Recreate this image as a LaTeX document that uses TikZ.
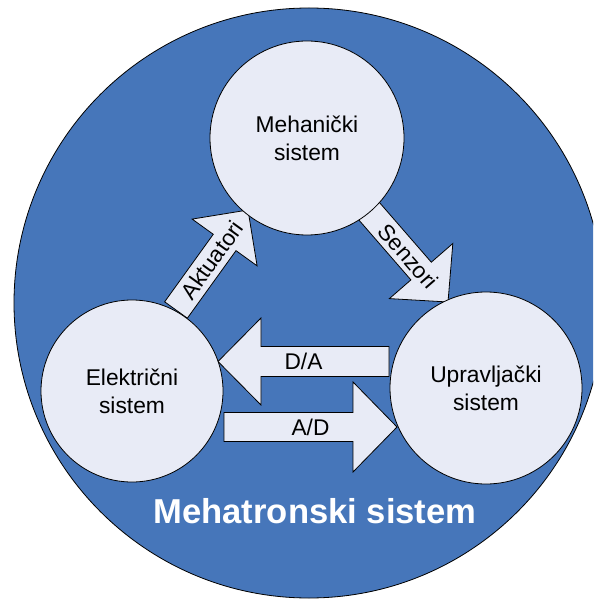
\documentclass[tikz,border=0pt]{standalone}
\usepackage{fontspec}
\setmainfont{Liberation Sans}
\usetikzlibrary{calc}
\definecolor{ringblue}{RGB}{70,118,186}
\definecolor{paleblue}{RGB}{232,235,246}
\tikzset{
  whole/.style={circle, draw=black, line width=0.8pt, fill=ringblue, inner sep=0pt},
  subsystem/.style={circle, draw=black, line width=0.8pt, fill=paleblue, inner sep=0pt,
    align=center, font=\fontsize{22.8}{28}\selectfont},
  arrowbody/.style={draw=black, line width=0.8pt, fill=paleblue, line join=miter},
  arrowlabel/.style={font=\fontsize{22.7}{27}\selectfont, inner sep=0pt},
  title/.style={text=white, font=\bfseries\fontsize{34.6}{40}\selectfont, inner sep=0pt},
}
% block arrow: #1 tail, #2 tip, #3 half shaft width, #4 half head width, #5 head length, #6 label
\newcommand{\blockarrow}[6]{%
  \coordinate (J) at ($(#2)!#5!(#1)$);
  \draw[arrowbody] ($(#1)!#3!90:(#2)$) -- ($(J)!#3!90:(#2)$) -- ($(J)!#4!90:(#2)$) -- (#2)
    -- ($(J)!#4!-90:(#2)$) -- ($(J)!#3!-90:(#2)$) -- ($(#1)!#3!-90:(#2)$) -- cycle;
  \path (#1) -- node[arrowlabel, sloped] {#6} (#2);
}
\begin{document}
\begin{tikzpicture}[x=1pt, y=-1pt]
  \useasboundingbox (0,0) rectangle (593,601);
  \clip (0,0) rectangle (593,601);

  % enclosing system
  \node[whole, minimum size=590pt] (sys) at (309,303) {};
  \node[title, anchor=base] (name) at (315,523) {Mehatronski sistem};

  % arrow end points
  \coordinate (akt-t) at (176,310);
  \coordinate (akt-h) at (248,210);
  \coordinate (sen-t) at (368.5,210.5);
  \coordinate (sen-h) at (448,302);
  \coordinate (da-t) at (389,361.5);
  \coordinate (da-h) at (218,361.5);
  \coordinate (ad-t) at (224,427);
  \coordinate (ad-h) at (397,427);

  \blockarrow{akt-t}{akt-h}{14pt}{40pt}{40pt}{Aktuatori}
  \blockarrow{sen-t}{sen-h}{13.5pt}{42pt}{41pt}{Senzori}
  \blockarrow{da-t}{da-h}{15pt}{43.5pt}{43pt}{D/A}
  \blockarrow{ad-t}{ad-h}{14.5pt}{45pt}{44pt}{A/D}

  % subsystems
  \node[subsystem, minimum size=194pt] (meh) at (307,138) {Mehanički\\sistem};
  \node[subsystem, minimum size=182pt] (el) at (132,391) {Električni\\sistem};
  \node[subsystem, minimum size=192pt] (upr) at (486,388) {Upravljački\\sistem};
\end{tikzpicture}
\end{document}
